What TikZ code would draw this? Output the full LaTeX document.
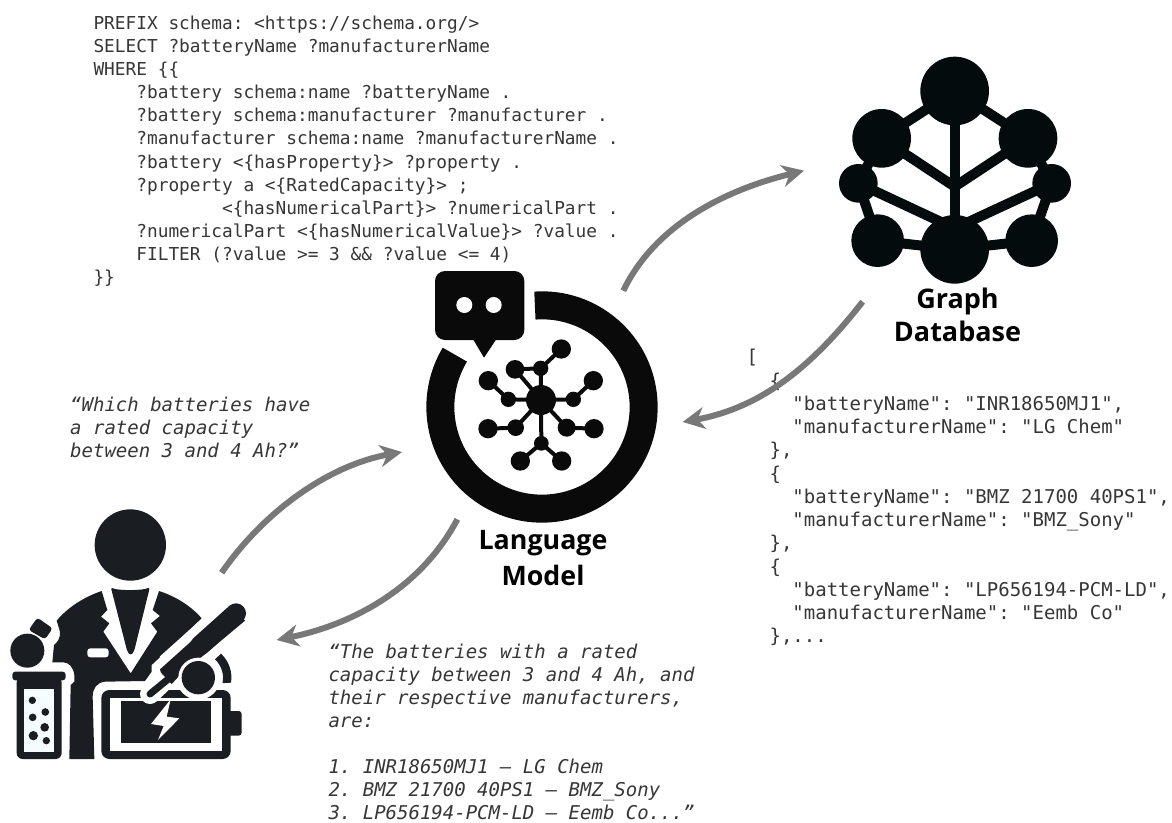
\documentclass[tikz,border=0pt]{standalone}
\usepackage{fontspec}
\setmainfont{Open Sans}
\setmonofont{DejaVu Sans Mono}
\usetikzlibrary{arrows.meta}
\definecolor{sciK}{HTML}{1A1D21}
\definecolor{lmK}{HTML}{0A0A0A}
\definecolor{gdK}{HTML}{030B0D}
\definecolor{txtK}{HTML}{363636}
\definecolor{flowG}{HTML}{787878}
\tikzset{
  flow/.style={draw=flowG,line width=6pt,-{Stealth[length=22pt,width=22pt,inset=7pt]}},
  lmdot/.style={circle,fill=lmK,inner sep=0pt,minimum size={#1*0.33333pt}},
  gddot/.style={circle,fill=gdK,inner sep=0pt,minimum size={#1*0.33333pt}},
  lmedge/.style={draw=lmK,line width=4pt},
  gdedge/.style={draw=gdK,line width=10pt},
  monosmall/.style={anchor=north west,inner sep=0pt,align=left,text=txtK,font=\ttfamily\fontsize{17.8}{23.15}\selectfont},
  monobig/.style={anchor=north west,inner sep=0pt,align=left,text=txtK,font=\ttfamily\fontsize{19}{23.25}\selectfont},
  monoital/.style={monobig,font=\ttfamily\itshape\fontsize{19}{23}\selectfont},
  iconlabel/.style={anchor=north,inner sep=0pt,align=center,text=black},
  sci/.style={shift={(0,500)},x=0.33333pt,y=-0.33333pt},
  lmi/.style={shift={(400,260)},x=0.33333pt,y=-0.33333pt},
  gdi/.style={shift={(800,40)},x=0.33333pt,y=-0.33333pt},
}
\newcommand{\fs}{\ \ \ \ }
\newcommand{\topstrut}{\rule{0pt}{15pt}}
\begin{document}
\begin{tikzpicture}[x=1pt,y=-1pt]
\useasboundingbox (0,0) rectangle (1172,822);
\fill[white] (0,0) rectangle (1172,822);

% texts
\node[monosmall] (query) at (93.3,14) {\topstrut PREFIX schema: <https://schema.org/>\\
SELECT ?batteryName ?manufacturerName\\
WHERE \{\{\\
\fs ?battery schema:name ?batteryName .\\
\fs ?battery schema:manufacturer ?manufacturer .\\
\fs ?manufacturer schema:name ?manufacturerName .\\
\fs ?battery <\{hasProperty\}> ?property .\\
\fs ?property a <\{RatedCapacity\}> ;\\
\fs\fs\fs <\{hasNumericalPart\}> ?numericalPart .\\
\fs ?numericalPart <\{hasNumericalValue\}> ?value .\\
\fs FILTER (?value >= 3 \&\& ?value <= 4)\\
\}\}};

\node[monoital] (question) at (70,396.7) {\topstrut “Which batteries have\\
a rated capacity\\
between 3 and 4 Ah?”};

\node[monoital] (answer) at (328.3,643) {\topstrut “The batteries with a rated\\
capacity between 3 and 4 Ah, and\\
their respective manufacturers,\\
are:\\
\\
1. INR18650MJ1 – LG Chem\\
2. BMZ 21700 40PS1 – BMZ\_Sony\\
3. LP656194-PCM-LD – Eemb Co...”};

\node[monobig] (result) at (746.5,348.6) {\topstrut [\\
\ \ \{\\
\ \ \ \ "batteryName": "INR18650MJ1",\\
\ \ \ \ "manufacturerName": "LG Chem"\\
\ \ \},\\
\ \ \{\\
\ \ \ \ "batteryName": "BMZ 21700 40PS1",\\
\ \ \ \ "manufacturerName": "BMZ\_Sony"\\
\ \ \},\\
\ \ \{\\
\ \ \ \ "batteryName": "LP656194-PCM-LD",\\
\ \ \ \ "manufacturerName": "Eemb Co"\\
\ \ \},...};

% scientist
\begin{scope}[sci]
\coordinate (sciout) at (665,218);
\coordinate (sciin) at (830,420);
\fill[sciK] (391,135) circle[radius=107];
\fill[sciK] (170,362) .. controls (205,320) and (255,290) .. (305,273) -- (322,330) -- (303,350) -- (328,370) -- (310,395) -- (392,520) -- (472,395) -- (453,370) -- (480,348) -- (458,330) -- (477,273) .. controls (530,290) and (575,320) .. (605,355) -- (455,495) -- (455,515) -- (435,543) -- (315,545) .. controls (290,548) and (278,565) .. (278,590) -- (283,777) -- (208,777) -- (212,555) -- (223,545) -- (223,525) .. controls (220,500) and (205,487) .. (190,487) -- (157,487) -- (162,435) .. controls (175,425) and (182,410) .. (180,395) -- cycle;
\fill[sciK,rounded corners=3pt] (332,260) .. controls (350,272) and (430,272) .. (450,260) -- (402,455) -- (392,467) -- (382,455) -- cycle;
\fill[white,rounded corners=3pt] (262,445) rectangle (326,472);
% flask
\fill[sciK] (82,452) circle[radius=51];
\fill[sciK,rounded corners=3pt] (112,353) -- (158,385) -- (135,418) -- (86,390) -- cycle;
\fill[sciK,rounded corners=3pt] (37,515) rectangle (197,541);
\fill[sciK,rounded corners=6pt] (50,530) rectangle (185,777);
\fill[white!96!cyan] (73,568) rectangle (162,755);
\foreach \bx/\by/\br in {97/601/11,136/636/11.5,98/652/11.5,134/682/13,100/707/14,139/722/11}
  \fill[sciK] (\bx,\by) circle[radius=\br];
% battery
\fill[sciK,rounded corners=8pt] (304,570) rectangle (692,777);
\fill[sciK,rounded corners=3pt] (680,633) rectangle (725,707);
\fill[white] (330,595) rectangle (667,753);
\fill[sciK] (362,603) rectangle (634,728);
\fill[white] (512,598) -- (453,672) -- (491,678) -- (474,720) -- (538,655) -- (500,650) -- cycle;
% tool
\draw[white,line width=36pt] (708,338) -- (515,510);
\draw[white,line width=20pt,line cap=round] (515,520) -- (450,582);
\fill[white] (595,533) circle[radius=66];
\draw[sciK,line width=20pt,line cap=round] (708,340) -- (600,437);
\fill[sciK] (735,362) -- (695,315) -- (480,508) -- (483,518) -- (515,552) -- (540,525) -- cycle;
\draw[sciK,line width=7pt,line cap=round] (505,537) -- (450,582);
\fill[white] (595,533) circle[radius=60];
\fill[sciK] (595,533) circle[radius=50];
\fill[sciK] (645,478) arc[start angle=-47,end angle=12,radius=76] -- (693,548) arc[start angle=9,end angle=-47,radius=98] -- cycle;
\end{scope}

% language model icon
\begin{scope}[lmi]
\coordinate (lmout) at (670,92);
\coordinate (lmoutb) at (172,778);
\draw[lmK,line width=28pt] (-94:305) ++(426,441) arc[start angle=-94,end angle=211,radius=305];
\fill[lmK,rounded corners=10pt] (105,33) rectangle (373,240);
\fill[lmK] (218,236) -- (252,293) -- (290,236) -- cycle;
\fill[white] (193,135) circle[radius=24];
\fill[white] (281,135) circle[radius=24];
\node[lmdot=90] (hub) at (423,420) {};
\node[lmdot=58] (t1) at (484,267) {};
\node[lmdot=46] (t2) at (422,325) {};
\node[lmdot=56] (t3) at (345,328) {};
\node[lmdot=58] (l1) at (265,362) {};
\node[lmdot=46] (l2) at (325,418) {};
\node[lmdot=58] (r1) at (580,362) {};
\node[lmdot=46] (r2) at (520,418) {};
\node[lmdot=58] (l3) at (264,506) {};
\node[lmdot=50] (l4) at (347,503) {};
\node[lmdot=54] (r4) at (500,503) {};
\node[lmdot=58] (r3) at (582,506) {};
\node[lmdot=44] (b0) at (424,550) {};
\node[lmdot=58] (b1) at (361,603) {};
\node[lmdot=58] (b2) at (485,603) {};
\foreach \a/\b in {hub/t2,hub/t3,t2/t1,t2/t3,hub/l2,l2/l1,hub/r2,r2/r1,hub/l4,l4/l3,hub/r4,r4/r3,hub/b0,b0/b1,b0/b2}
  \draw[lmedge] (\a.center) -- (\b.center);
\end{scope}

% graph database icon
\begin{scope}[gdi]
\coordinate (gdin) at (12,392);
\coordinate (gdout) at (188,785);
\coordinate (gj1) at (464,440);
\coordinate (gj2) at (464,565);
\node[gddot=206] (gt) at (464,153) {};
\node[gddot=176] (glu) at (245,295) {};
\node[gddot=176] (gru) at (684,295) {};
\node[gddot=116] (glm) at (175,430) {};
\node[gddot=116] (grm) at (755,430) {};
\node[gddot=158] (gll) at (233,602) {};
\node[gddot=158] (grl) at (695,602) {};
\node[gddot=206] (gb) at (464,628) {};
\foreach \a/\b in {gt/glu,gt/gru,gt/gb,glu/gj1,gru/gj1,glm/gj2,grm/gj2,glm/gll,grm/grl,gll/gb,grl/gb,glu/glm,gru/grm}
  \draw[gdedge] (\a.center) -- (\b.center);
\end{scope}

\node[iconlabel,font=\bfseries\fontsize{26.8}{36}\selectfont] (lmlabel) at (543,525) {\rule{0pt}{24pt}Language\\Model};
\node[iconlabel,font=\bfseries\fontsize{27}{33.7}\selectfont] (gdlabel) at (957.5,284) {\rule{0pt}{24pt}Graph\\Database};

\coordinate (lmin) at (402,452);
\coordinate (lmback) at (682.7,422);
\draw[flow] (sciout) .. controls (265,510) and (330,465) .. (lmin);
\draw[flow] (lmoutb) .. controls (420,590) and (350,625) .. (sciin);
\draw[flow] (lmout) .. controls (655,225) and (725,190) .. (gdin);
\draw[flow] (gdout) .. controls (811,368) and (760,408) .. (lmback);
\end{tikzpicture}
\end{document}
